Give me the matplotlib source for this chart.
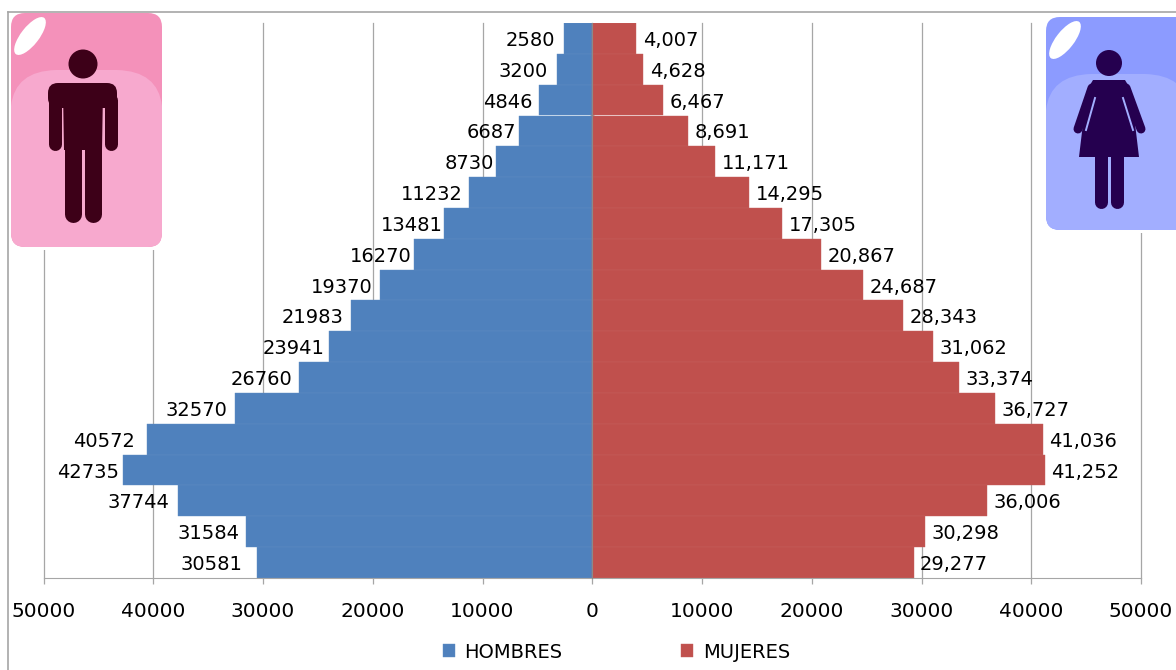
import numpy as np
import matplotlib
matplotlib.use('Agg')
import matplotlib.pyplot as plt
from matplotlib.patches import Circle, Ellipse, FancyBboxPatch, PathPatch, Polygon, Rectangle
from matplotlib.path import Path

# bars listed from the top of the pyramid down to the base
hombres = [2580, 3200, 4846, 6687, 8730, 11232, 13481, 16270, 19370,
           21983, 23941, 26760, 32570, 40572, 42735, 37744, 31584, 30581]
mujeres = [4007, 4628, 6467, 8691, 11171, 14295, 17305, 20867, 24687,
           28343, 31062, 33374, 36727, 41036, 41252, 36006, 30298, 29277]
x_ticks = [-50000, -40000, -30000, -20000, -10000, 0, 10000, 20000, 30000, 40000, 50000]

# the male labels sit unevenly off their bars in the original (pixels)
male_gap = [9, 9, 7, 3, 2, 6, 2, 2, 7, 7, 5, 6, 7, 12, 4, 9, 6, 14]

W, H = 1176, 670
GREY = '#a6a6a6'
px = 0.72  # one pixel in points at dpi 100
plt.rcParams['font.family'] = 'DejaVu Sans'

fig = plt.figure(figsize=(W / 100, H / 100), dpi=100)
ax = fig.add_axes([43.5 / W, 1 - 578 / H, (1141 - 43.5) / W, (578 - 23) / H])

pos = np.arange(len(hombres))
ax.barh(pos, -np.array(hombres), height=1, color='#4f81bd', edgecolor='#5f8cc2', lw=0.3,
        label='HOMBRES', zorder=2)
ax.barh(pos, mujeres, height=1, color='#c0504d', edgecolor='#c55f5c', lw=0.3,
        label='MUJERES', zorder=2)
ax.set_xlim(-50000, 50000)
ax.set_ylim(len(hombres) - 0.5, -0.5)

ax.set_xticks(x_ticks)
ax.set_xticklabels([str(abs(t)) for t in x_ticks], fontsize=14.5)
ax.tick_params(axis='x', length=4.5, width=0.9, color=GREY, pad=13, labelcolor='black')
ax.set_yticks(np.arange(-0.5, len(hombres)))
ax.set_yticklabels([])
ax.tick_params(axis='y', length=3, width=0.6, color='#8a8a8a', direction='inout')
ax.grid(axis='x', color=GREY, lw=0.9, zorder=0, clip_on=False)
ax.set_axisbelow(True)
for side in ['top', 'right']:
    ax.spines[side].set_visible(False)
ax.spines['left'].set_position(('data', 0))
ax.spines['left'].set_color('#8a8a8a')
ax.spines['left'].set_zorder(3)
ax.spines['bottom'].set_color(GREY)

for i, (h, m) in enumerate(zip(hombres, mujeres)):
    ax.annotate(str(h), (-h, i), xytext=(-male_gap[i] * px, -1.5), textcoords='offset points',
                ha='right', va='center', fontsize=14, zorder=4)
    ax.annotate(f'{m:,}', (m, i), xytext=(4.7, -1.5), textcoords='offset points',
                ha='left', va='center', fontsize=14, zorder=4)

fig.legend(loc='center', bbox_to_anchor=(616.5 / W, 1 - 652 / H), ncol=2, frameon=False,
           fontsize=14, handlelength=0.62, handleheight=0.62, handletextpad=0.5,
           columnspacing=6.1)

# overlay in pixel coordinates for the frame and the two pictures
ov = fig.add_axes([0, 0, 1, 1], zorder=5)
ov.set_xlim(0, W)
ov.set_ylim(H, 0)
ov.axis('off')
ov.plot([8, 8], [H, 12], color=GREY, lw=1.2)
ov.plot([8, W], [12, 12], color=GREY, lw=1.2)


def card(x0, y0, x1, y1, dark, light):
    ov.add_patch(Rectangle((x0 - 3, y0 - 3), x1 - x0 + 6, y1 - y0 + 6, fc='white', ec='none'))
    shape = FancyBboxPatch((x0 + 10, y0 + 10), x1 - x0 - 20, y1 - y0 - 20,
                           boxstyle='round,pad=10,rounding_size=14', fc=dark, ec='none')
    ov.add_patch(shape)
    top = y0 + 57
    verts = [(x0, y1), (x0, top + 36), (x0 + 4, top + 1), (x0 + 45, top), (x1 - 45, top),
             (x1 - 4, top + 1), (x1, top + 36), (x1, y1), (x0, y1)]
    codes = [Path.MOVETO, Path.LINETO, Path.CURVE3, Path.CURVE3, Path.LINETO,
             Path.CURVE3, Path.CURVE3, Path.LINETO, Path.CLOSEPOLY]
    hump = PathPatch(Path(verts, codes), fc=light, ec='none')
    ov.add_patch(hump)
    hump.set_clip_path(shape)
    ov.add_patch(Ellipse((x0 + 19, y0 + 23), 18, 46, angle=38, fc='white', ec='none'))


def stroke(xs, ys, width, color):
    ov.plot(xs, ys, color=color, lw=width * px, solid_capstyle='round')


# man
INK_M = '#3d0018'
card(11, 13, 162, 247, '#f491ba', '#f7a9ce')
ov.add_patch(Circle((83, 64), 14.5, fc=INK_M, ec='none'))
ov.add_patch(FancyBboxPatch((58, 93), 49, 5, boxstyle='round,pad=10,rounding_size=10', fc=INK_M, ec='none'))
ov.add_patch(Polygon([(63, 90), (103, 90), (102, 150), (64, 150)], fc=INK_M, ec='none'))
stroke([54.5, 54.5], [100, 144], 13, INK_M)
stroke([110.5, 110.5], [100, 144], 13, INK_M)
stroke([72.5, 72.5], [148, 214], 17, INK_M)
stroke([92.5, 92.5], [148, 214], 17, INK_M)

# woman
INK_F = '#25004f'
card(1046, 17, 1190, 230, '#8c9bff', '#a2aeff')
ov.add_patch(Circle((1109, 63), 13, fc=INK_F, ec='none'))
ov.add_patch(Polygon([(1093, 80), (1125, 80), (1131, 90), (1139, 157), (1079, 157), (1087, 90)],
                     fc=INK_F, ec='none'))
stroke([1092, 1078], [88, 129], 9, INK_F)
stroke([1126, 1141], [88, 129], 9, INK_F)
stroke([1100.5, 1100.5], [150, 202], 13, INK_F)
stroke([1117, 1117], [150, 202], 13, INK_F)
ov.plot([1095, 1086], [98, 130], color='#a2aeff', lw=1.4)
ov.plot([1123, 1133], [98, 130], color='#a2aeff', lw=1.4)

fig.savefig('out.png', dpi=100)
